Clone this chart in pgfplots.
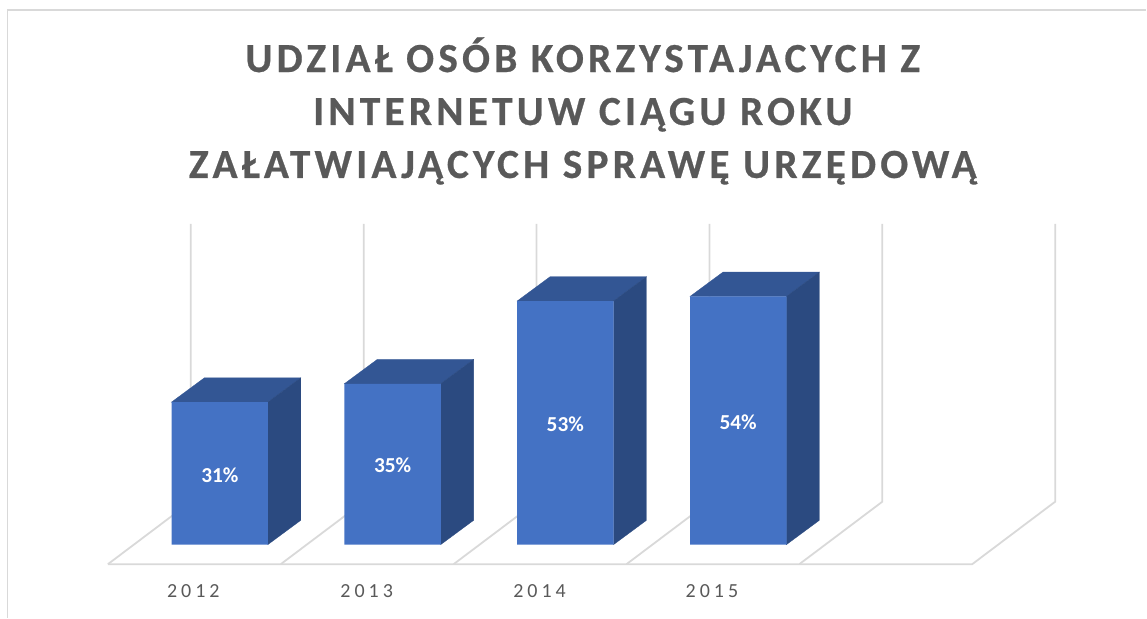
\documentclass[border=0pt]{standalone}
\usepackage{pgfplots}
\pgfplotsset{compat=1.18}
\usepackage{fontspec}
\setmainfont{Carlito}
\newfontfamily\titlef[LetterSpace=10.2,BoldFeatures={FakeBold=0.6}]{Carlito}
\newfontfamily\tickf[LetterSpace=20]{Carlito}
\definecolor{front}{HTML}{4472C4}
\definecolor{topc}{HTML}{335694}
\definecolor{sidec}{HTML}{2B4A80}
\definecolor{gridc}{HTML}{D9D9D9}
\definecolor{txt}{HTML}{595959}
\begin{document}
\begin{tikzpicture}[x=1pt,y=1pt]
\begin{axis}[
  scale only axis, width=860.25pt, height=463.5pt,
  xmin=0, xmax=1147, ymin=-15.87, ymax=118.48,
  clip=false,
  axis line style={draw=none},
  major tick length=0pt,
  ytick=\empty,
  xtick={193.5,367,540,712.5},
  xticklabels={2012,2013,2014,2015},
  xticklabel style={anchor=center,yshift=19.6pt,font=\tickf\fontsize{15}{18}\selectfont,text=txt},
]
% frame of the chart area
\addplot[gridc,line width=1.4pt,forget plot] coordinates {(7.5,-15.87)(7.5,116.3)(1147,116.3)};
% walls and floor
\addplot[gridc,line width=1.35pt,forget plot] coordinates {(108,-4.24)(973,-4.24)(1056,9.35)(1056,69.78)};
\addplot[gridc,line width=1.35pt,forget plot] coordinates {(108,-4.24)(191,9.35)(191,69.78)};
\addplot[gridc,line width=1.35pt,forget plot] coordinates {(281,-4.24)(364,9.35)(364,69.78)};
\addplot[gridc,line width=1.35pt,forget plot] coordinates {(454,-4.24)(537,9.35)(537,69.78)};
\addplot[gridc,line width=1.35pt,forget plot] coordinates {(627,-4.24)(710,9.35)(710,69.78)};
\addplot[gridc,line width=1.35pt,forget plot] coordinates {(800,-4.24)(883,9.35)(883,69.78)};
% tops
\addplot[fill=topc,draw=topc,line width=0.2pt,forget plot] coordinates {(171.5,31)(204.5,36.3)(301,36.3)(268,31)} -- cycle;
\addplot[fill=topc,draw=topc,line width=0.2pt,forget plot] coordinates {(344.5,35)(377.5,40.3)(474,40.3)(441,35)} -- cycle;
\addplot[fill=topc,draw=topc,line width=0.2pt,forget plot] coordinates {(517.5,53)(550.5,58.3)(647,58.3)(614,53)} -- cycle;
\addplot[fill=topc,draw=topc,line width=0.2pt,forget plot] coordinates {(690.5,54)(723.5,59.3)(820,59.3)(787,54)} -- cycle;
% sides
\addplot[fill=sidec,draw=sidec,line width=0.2pt,forget plot] coordinates {(268,31)(301,36.3)(301,5.3)(268,0)} -- cycle;
\addplot[fill=sidec,draw=sidec,line width=0.2pt,forget plot] coordinates {(441,35)(474,40.3)(474,5.3)(441,0)} -- cycle;
\addplot[fill=sidec,draw=sidec,line width=0.2pt,forget plot] coordinates {(614,53)(647,58.3)(647,5.3)(614,0)} -- cycle;
\addplot[fill=sidec,draw=sidec,line width=0.2pt,forget plot] coordinates {(787,54)(820,59.3)(820,5.3)(787,0)} -- cycle;
% fronts
\addplot[ybar,bar width=96.5,bar shift=0pt,fill=front,draw=none,forget plot] coordinates {(219.9,31)(392.9,35)(565.9,53)(738.9,54)};
% labels
\addplot[only marks,mark=none,point meta=explicit symbolic,nodes near coords,
  every node near coord/.append style={anchor=center,text=white,font=\bfseries\fontsize{16}{18}\selectfont},forget plot]
  coordinates {(220,15)[31\%] (393,17.2)[35\%] (565.75,26.2)[53\%] (738.75,26.6)[54\%]};
\node[align=center,text=txt,font=\titlef\bfseries\fontsize{31}{39.75}\selectfont,anchor=center] at (rel axis cs:0.5085,0.8205)
  {UDZIAŁ OSÓB KORZYSTAJACYCH Z\\INTERNETUW CIĄGU ROKU\\ZAŁATWIAJĄCYCH SPRAWĘ URZĘDOWĄ};
\end{axis}
\end{tikzpicture}
\end{document}
